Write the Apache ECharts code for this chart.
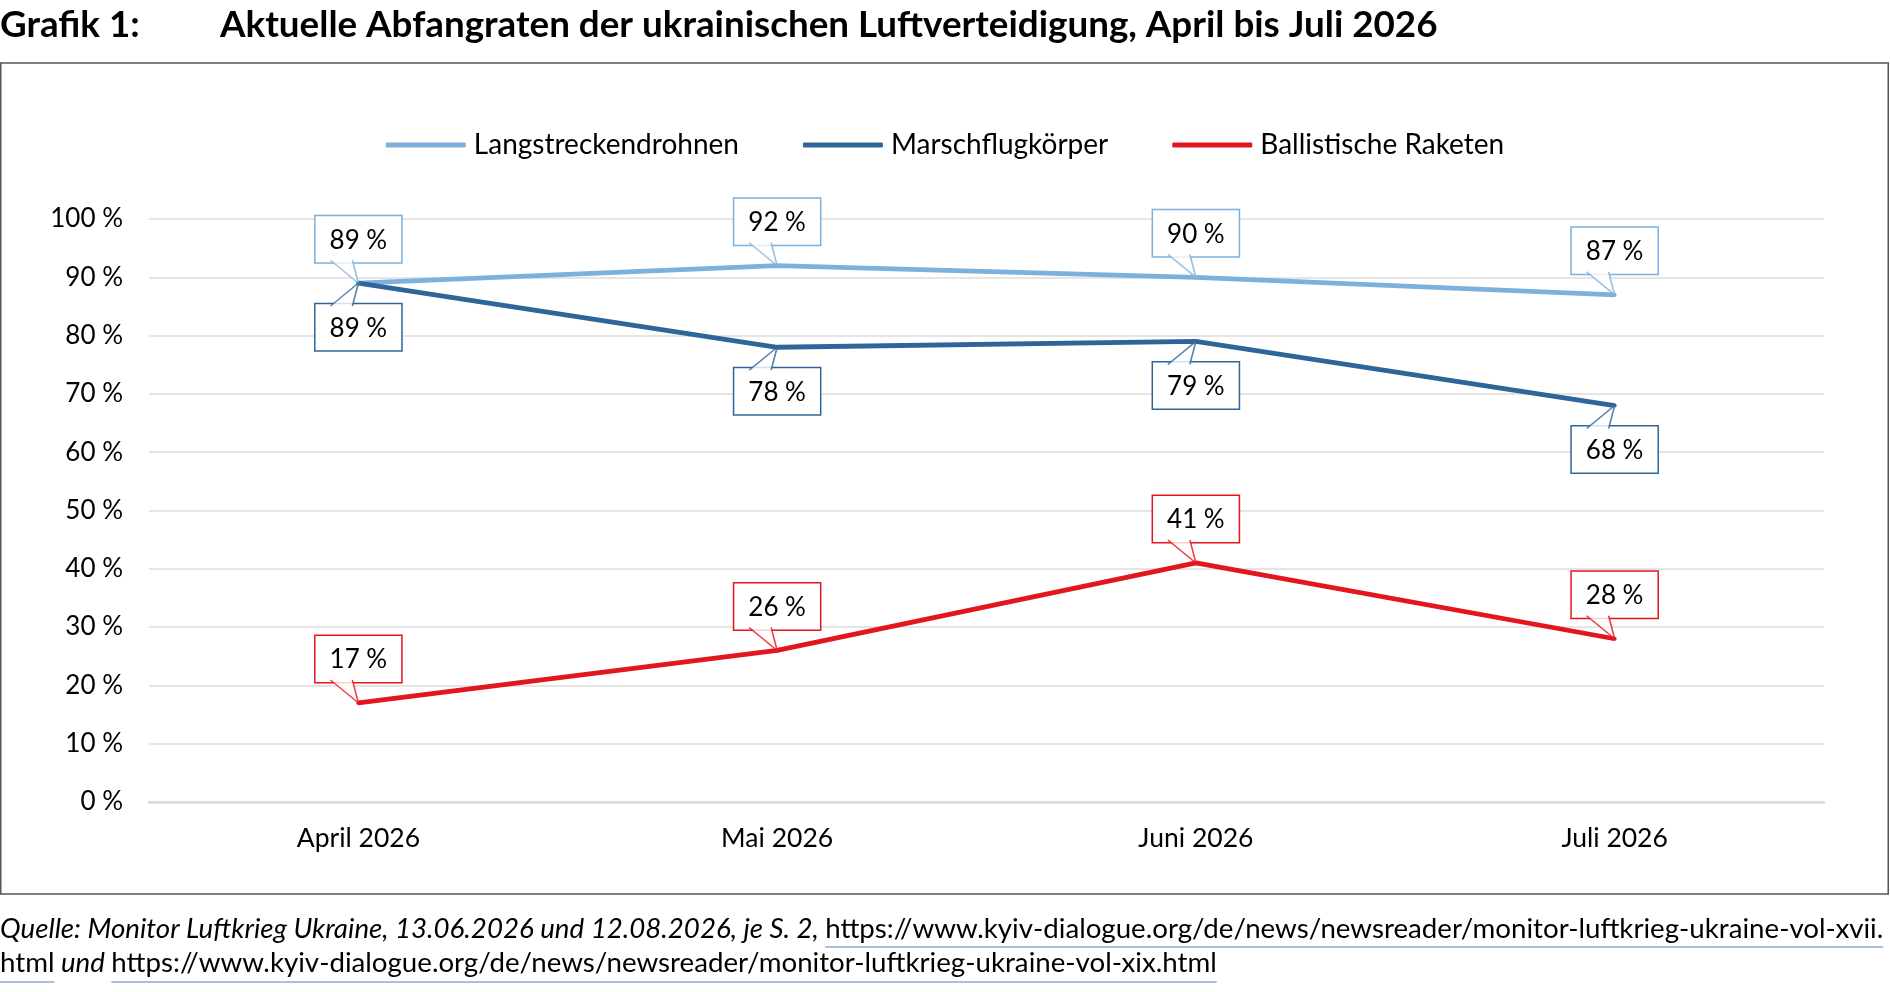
<html style="height: 100%">
<head>
<meta charset="utf-8">
</head>
<body style="height: 100%; width: 100%; margin: 0; background: #fff">
<div id="container" style="height: 100%; width: 100%;"></div>
<script src="https://cdn.jsdelivr.net/npm/echarts@6/dist/echarts.min.js"></script>
<script type="text/javascript">
// Daten
var monate = ['April 2026', 'Mai 2026', 'Juni 2026', 'Juli 2026'];
var drohnen = [89, 92, 90, 87];
var marschflug = [89, 78, 79, 68];
var ballistisch = [17, 26, 41, 28];
var serienNamen = ['Langstreckendrohnen', 'Marschflugkörper', 'Ballistische Raketen'];
var farben = ['#7eb0dc', '#2e6699', '#e3151f'];

var titelNr = 'Grafik 1:';
var titel = 'Aktuelle Abfangraten der ukrainischen Luftverteidigung, April bis Juli 2026';
var quelleKursiv = 'Quelle: Monitor Luftkrieg Ukraine, 13.06.2026 und 12.08.2026, je S. 2, ';
var link1 = 'https://www.kyiv-dialogue.org/de/news/newsreader/monitor-luftkrieg-ukraine-vol-xvii.';
var link1Rest = 'html';
var undText = ' und ';
var link2 = 'https://www.kyiv-dialogue.org/de/news/newsreader/monitor-luftkrieg-ukraine-vol-xix.html';

var FONT = 'Lato';
var dom = document.getElementById('container');
var myChart = echarts.init(dom);

// Textbreiten messen, damit Unterstreichungen passen
var ctx = document.createElement('canvas').getContext('2d');
function breite(txt, font) {
	ctx.font = font;
	return ctx.measureText(txt).width;
}

// Titel auf Breite bringen
var tw = breite(titel, 'bold 34px ' + FONT);
var titelGroesse = Math.min(42, 34 * 1218 / tw);

// Quelle auf Seitenbreite bringen
var qw = breite(quelleKursiv, 'italic 24px ' + FONT) + breite(link1, '24px ' + FONT);
var qGroesse = Math.min(30, 24 * 1884 / qw);
var fKursiv = 'italic ' + qGroesse + 'px ' + FONT;
var fNormal = qGroesse + 'px ' + FONT;
var wKursiv = breite(quelleKursiv, fKursiv);
var wLink1 = breite(link1, fNormal);
var wRest = breite(link1Rest, fNormal);
var wUnd = breite(undText, fKursiv);
var wLink2 = breite(link2, fNormal);

var zeile1 = 929, zeile2 = 963;
var unterStrich = {stroke: '#8eaad8', lineWidth: 1.5};

// Zeiger der Beschriftungen (Excel-Legendenform)
var zeigerOben = 'path://M0,0L28,23L22,0';
var zeigerUnten = 'path://M0,23L28,0L22,23';

function linie(i, daten, pos) {
	return {
		name: serienNamen[i],
		type: 'line',
		data: daten,
		z: 2,
		symbol: 'circle',
		symbolSize: 4,
		color: farben[i],
		itemStyle: {color: farben[i]},
		lineStyle: {width: 4.8, color: farben[i]},
		label: {
			show: true,
			position: pos,
			distance: 19,
			formatter: '{c} %',
			fontFamily: FONT,
			fontSize: 26,
			lineHeight: 28,
			color: '#000',
			backgroundColor: '#fff',
			borderColor: farben[i],
			borderWidth: 1.5,
			padding: [10, 14, 8, 14]
		},
		emphasis: {disabled: true}
	};
}

function zeiger(i, daten, oben) {
	return {
		type: 'scatter',
		data: daten,
		z: 5,
		silent: true,
		symbol: oben ? zeigerOben : zeigerUnten,
		symbolSize: [28, 23],
		symbolOffset: [-14, oben ? -11.5 : 11.5],
		itemStyle: {color: '#fff', borderColor: farben[i], borderWidth: 1.5},
		emphasis: {disabled: true}
	};
}

option = {
	backgroundColor: '#fff',
	animation: false,
	title: [{
		text: titelNr,
		left: 0,
		top: 7,
		padding: 0,
		textStyle: {fontFamily: FONT, fontWeight: 'bold', fontSize: titelGroesse, color: '#000'}
	}, {
		text: titel,
		left: 220,
		top: 7,
		padding: 0,
		textStyle: {fontFamily: FONT, fontWeight: 'bold', fontSize: titelGroesse, color: '#000'}
	}],
	legend: {
		top: 126,
		left: 'center',
		icon: 'roundRect',
		itemWidth: 80,
		itemHeight: 5,
		itemGap: 64,
		data: serienNamen,
		textStyle: {fontFamily: FONT, fontSize: 28, color: '#000', padding: [0, 0, 0, 3]}
	},
	grid: {left: 149, right: 66, top: 219, bottom: 190, containLabel: false},
	xAxis: {
		type: 'category',
		data: monate,
		boundaryGap: true,
		axisLine: {lineStyle: {color: '#d9d9d9', width: 2.5}},
		axisTick: {show: false},
		axisLabel: {fontFamily: FONT, fontSize: 26.5, color: '#000', margin: 23}
	},
	yAxis: {
		type: 'value',
		min: 0,
		max: 100,
		interval: 10,
		axisLine: {show: false},
		axisTick: {show: false},
		splitLine: {lineStyle: {color: '#dcdcdc', width: 1.5}},
		axisLabel: {fontFamily: FONT, fontSize: 26, color: '#000', margin: 26, formatter: '{value} %'}
	},
	series: [
		linie(0, drohnen, 'top'),
		linie(1, marschflug, 'bottom'),
		linie(2, ballistisch, 'top'),
		zeiger(0, drohnen, true),
		zeiger(1, marschflug, false),
		zeiger(2, ballistisch, true)
	],
	graphic: [
		{type: 'rect', shape: {x: 0.75, y: 63, width: 1887.5, height: 831}, style: {fill: 'none', stroke: '#555', lineWidth: 1.5}, silent: true},
		{type: 'text', x: 0, y: zeile1, style: {text: quelleKursiv, font: fKursiv, fill: '#000', verticalAlign: 'middle'}},
		{type: 'text', x: wKursiv, y: zeile1, style: {text: link1, font: fNormal, fill: '#000', verticalAlign: 'middle'}},
		{type: 'line', shape: {x1: wKursiv, y1: 947, x2: wKursiv + wLink1, y2: 947}, style: unterStrich},
		{type: 'text', x: 0, y: zeile2, style: {text: link1Rest, font: fNormal, fill: '#000', verticalAlign: 'middle'}},
		{type: 'line', shape: {x1: 0, y1: 982, x2: wRest, y2: 982}, style: unterStrich},
		{type: 'text', x: wRest, y: zeile2, style: {text: undText, font: fKursiv, fill: '#000', verticalAlign: 'middle'}},
		{type: 'text', x: wRest + wUnd, y: zeile2, style: {text: link2, font: fNormal, fill: '#000', verticalAlign: 'middle'}},
		{type: 'line', shape: {x1: wRest + wUnd, y1: 982, x2: wRest + wUnd + wLink2, y2: 982}, style: unterStrich}
	]
};

if (option && typeof option === 'object') {
	myChart.setOption(option);
}
</script>
</body>
</html>
